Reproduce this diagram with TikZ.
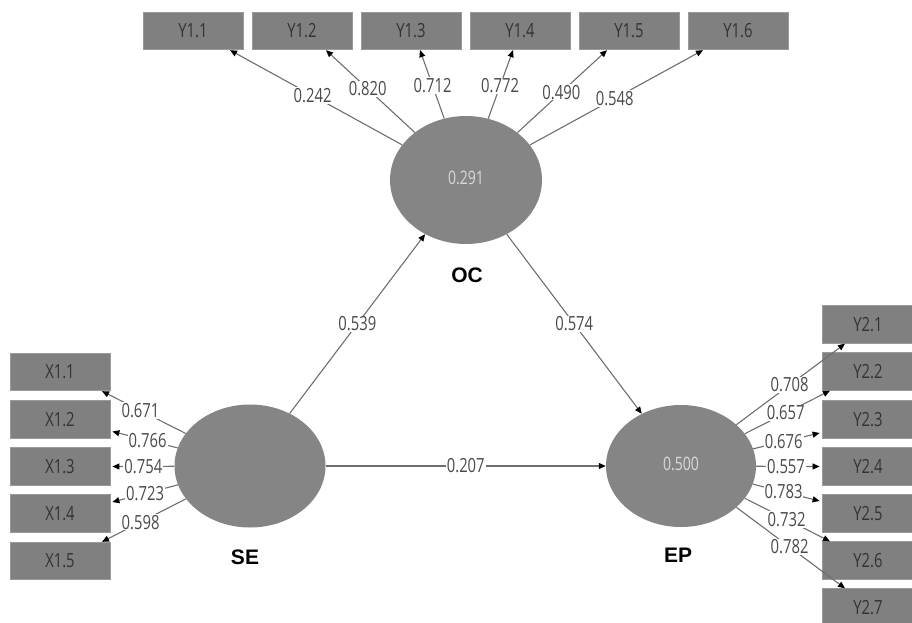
\documentclass[tikz,border=0pt]{standalone}
\usepackage{fontspec}
\setmainfont{Open Sans}[FakeStretch=0.76]
\newfontfamily\lvfont{Liberation Sans}
\usetikzlibrary{arrows.meta,calc,shapes.geometric}
\definecolor{boxgray}{HTML}{808080}
\definecolor{boxedge}{HTML}{9A9A9A}
\definecolor{ellgray}{HTML}{858585}
\definecolor{boxtext}{HTML}{333333}
\definecolor{lbltext}{HTML}{4A4A4A}
\definecolor{lighttext}{HTML}{DADADA}
\definecolor{linegray}{HTML}{6E6E6E}
\tikzset{
  ind/.style={rectangle, fill=boxgray, draw=boxedge, line width=0.8pt, minimum width=100pt, minimum height=37.5pt, inner sep=0pt, text=boxtext, font=\fontsize{19.5}{19.5}\selectfont},
  indr/.style={ind, minimum width=92pt},
  lv/.style={ellipse, fill=ellgray, inner sep=0pt, text=lighttext, font=\fontsize{18.5}{18.5}\selectfont},
  lvname/.style={font=\lvfont\bfseries\fontsize{21}{21}\selectfont, text=black},
  conn/.style={draw=linegray, line width=1.1pt, -{Triangle[length=7pt,width=6pt,black]}},
  lbl/.style={fill=white, inner sep=1pt, text=lbltext, font=\fontsize{19.5}{19.5}\selectfont}
}
\begin{document}
\begin{tikzpicture}[x=1pt,y=-1pt]
\useasboundingbox (0,0) rectangle (912,623);
% latent variables
\node[lv, minimum width=152pt, minimum height=128pt] (OC) at (466,180) {\raisebox{4pt}{0.291}};
\node[lv, minimum width=151pt, minimum height=123pt] (SE) at (250,466) {};
\node[lv, minimum width=150pt, minimum height=122pt] (EP) at (681,466) {\raisebox{5pt}{0.500}};
\node[lvname] (OCn) at (467,275) {OC};
\node[lvname] (SEn) at (245,557) {SE};
\node[lvname] (EPn) at (678,555) {EP};
% top indicators
\node[ind] (Y11) at (193,31) {Y1.1};
\node[ind] (Y12) at (302,31) {Y1.2};
\node[ind] (Y13) at (411,31) {Y1.3};
\node[ind] (Y14) at (520,31) {Y1.4};
\node[ind] (Y15) at (629,31) {Y1.5};
\node[ind] (Y16) at (738,31) {Y1.6};
% left indicators
\node[ind] (X11) at (60,372) {X1.1};
\node[ind] (X12) at (60,419.5) {X1.2};
\node[ind] (X13) at (60,466.5) {X1.3};
\node[ind] (X14) at (60,513.5) {X1.4};
\node[ind] (X15) at (60,561) {X1.5};
% right indicators
\node[indr] (Y21) at (868,324.5) {Y2.1};
\node[indr] (Y22) at (868,371.5) {Y2.2};
\node[indr] (Y23) at (868,419.5) {Y2.3};
\node[indr] (Y24) at (868,466.5) {Y2.4};
\node[indr] (Y25) at (868,513.5) {Y2.5};
\node[indr] (Y26) at (868,560.5) {Y2.6};
\node[indr] (Y27) at (868,607.5) {Y2.7};
% OC loadings
\draw[conn] (OC) -- node[lbl, pos=0.52] {0.242} ($(Y11.south)+(37,0)$);
\draw[conn] (OC) -- node[lbl, pos=0.53] {0.820} ($(Y12.south)+(24,0)$);
\draw[conn] (OC) -- node[lbl, pos=0.48] {0.712} ($(Y13.south)+(9,0)$);
\draw[conn] (OC) -- node[lbl, pos=0.48] {0.772} ($(Y14.south)+(-7,0)$);
\draw[conn] (OC) -- node[lbl, pos=0.49] {0.490} ($(Y15.south)+(-22,0)$);
\draw[conn] (OC) -- node[lbl, pos=0.49] {0.548} ($(Y16.south)+(-35,0)$);
% SE loadings
\draw[conn] (SE) -- node[lbl, pos=0.54] {0.671} ($(X11.south)+(42,0)$);
\draw[conn] (SE) -- node[lbl, pos=0.46] {0.766} ($(X12.east)+(2,12)$);
\draw[conn] (SE) -- node[lbl, pos=0.5] {0.754} ($(X13.east)+(2,0)$);
\draw[conn] (SE) -- node[lbl, pos=0.5] {0.723} ($(X14.east)+(2,-11.5)$);
\draw[conn] (SE) -- node[lbl, pos=0.54] {0.598} ($(X15.north)+(42,0)$);
% EP loadings
\draw[conn] (EP) -- node[lbl, pos=0.49] {0.708} ($(Y21.south)+(-23,0)$);
\draw[conn] (EP) -- node[lbl, pos=0.48] {0.657} ($(Y22.south)+(-38,0)$);
\draw[conn] (EP) -- node[lbl, pos=0.46] {0.676} ($(Y23.west)+(-2,13.5)$);
\draw[conn] (EP) -- node[lbl, pos=0.47] {0.557} ($(Y24.west)+(-2,0)$);
\draw[conn] (EP) -- node[lbl, pos=0.46] {0.783} ($(Y25.west)+(-2,-12.5)$);
\draw[conn] (EP) -- node[lbl, pos=0.49] {0.732} ($(Y26.north)+(-38,0)$);
\draw[conn] (EP) -- node[lbl, pos=0.49] {0.782} ($(Y27.north)+(-23,0)$);
% structural paths
\draw[conn] (SE) -- node[lbl] {0.539} (OC);
\draw[conn] (OC) -- node[lbl] {0.574} (EP);
\draw[conn] (SE) -- node[lbl] {0.207} (EP);
\end{tikzpicture}
\end{document}
